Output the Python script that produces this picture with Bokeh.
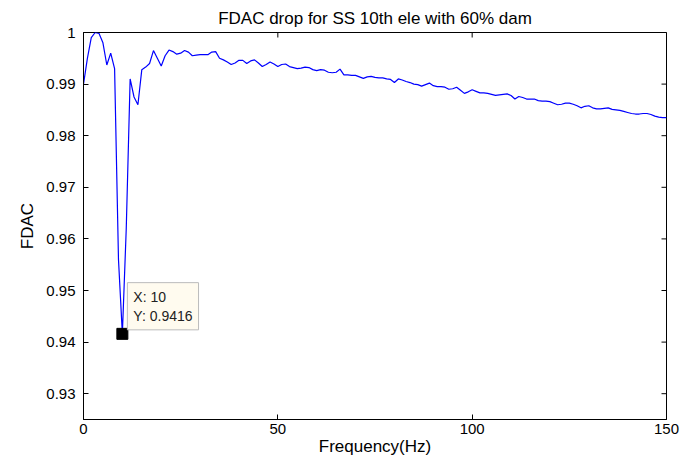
from bokeh.plotting import figure
from bokeh.models import (ColumnDataSource, Range1d, FixedTicker,
                          CustomJSTickFormatter, Label)
from bokeh.embed import file_html
from bokeh.resources import INLINE
import math

freq = list(range(0, 151))
fdac = [
    0.9900, 0.9950, 0.9990, 1.0000, 0.9998, 0.9980, 0.9937, 0.9960, 0.9930, 0.9560,
    0.9416, 0.9620, 0.9910, 0.9875, 0.9860, 0.9928, 0.9933, 0.9940, 0.9965, 0.9950,
    0.9935, 0.9955, 0.9966, 0.9963, 0.9958, 0.9960, 0.9965, 0.9962, 0.9955, 0.9956,
    0.9957, 0.9957, 0.9957, 0.9962, 0.9963, 0.9950, 0.9947, 0.9943, 0.9938, 0.9941,
    0.9946, 0.9946, 0.9940, 0.9945, 0.9947, 0.9941, 0.9934, 0.9938, 0.9943, 0.9939,
    0.9934, 0.9938, 0.9939, 0.9934, 0.9932, 0.9930, 0.9931, 0.9933, 0.9932, 0.9928,
    0.9926, 0.9928, 0.9927, 0.9923, 0.9922, 0.9923, 0.9929, 0.9918, 0.9918, 0.9917,
    0.9917, 0.9914, 0.9911, 0.9914, 0.9915, 0.9913, 0.9912, 0.9912, 0.9910, 0.9909,
    0.9903, 0.9910, 0.9908, 0.9905, 0.9903, 0.9900, 0.9899, 0.9896, 0.9899, 0.9902,
    0.9897, 0.9895, 0.9895, 0.9894, 0.9890, 0.9891, 0.9894, 0.9888, 0.9882, 0.9885,
    0.9889, 0.9886, 0.9883, 0.9883, 0.9882, 0.9880, 0.9878, 0.9879, 0.9880, 0.9881,
    0.9878, 0.9871, 0.9876, 0.9874, 0.9871, 0.9871, 0.9871, 0.9868, 0.9867, 0.9867,
    0.9866, 0.9863, 0.9860, 0.9861, 0.9863, 0.9863, 0.9861, 0.9858, 0.9854, 0.9857,
    0.9858, 0.9854, 0.9852, 0.9852, 0.9853, 0.9854, 0.9851, 0.9850, 0.9849, 0.9847,
    0.9845, 0.9843, 0.9842, 0.9842, 0.9843, 0.9843, 0.9841, 0.9838, 0.9836, 0.9835,
    0.9835,
]
x_ticks = [0, 50, 100, 150]
y_ticks = [0.93, 0.94, 0.95, 0.96, 0.97, 0.98, 0.99, 1.0]
x_lim = [0, 150]
y_lim = [0.925, 1.0]

tip_x = [10]
tip_y = [0.9416]

FONT = "Liberation Sans"

p = figure(width=693, height=461, output_backend="svg", toolbar_location=None,
           x_range=Range1d(*x_lim), y_range=Range1d(*y_lim),
           min_border_left=83, min_border_top=32, min_border_right=27,
           min_border_bottom=42)
p.title.text = "FDAC drop for SS 10th ele with 60% dam"
p.title.align = "center"
p.title.text_font = FONT
p.title.text_font_size = "17px"
p.title.text_font_style = "normal"
p.title.text_color = "black"
p.title.offset = 0
p.title.standoff = 10

p.grid.visible = False
p.outline_line_color = "black"
p.outline_line_width = 1
p.background_fill_color = "white"
p.border_fill_color = "white"

src = ColumnDataSource(dict(freq=freq, fdac=fdac))
p.line("freq", "fdac", source=src, line_color="#0000FF", line_width=1.2)

# inward tick marks on the top and right edges (box on)
p.scatter(x=x_ticks, y=[y_lim[1]] * len(x_ticks), marker="dash",
          angle=math.pi / 2, size=10, line_color="black", line_width=1)
p.scatter(x=[x_lim[1]] * len(y_ticks), y=y_ticks, marker="dash",
          size=10, line_color="black", line_width=1)

p.scatter(x=tip_x, y=tip_y, marker="square", size=11, color="black")
tip = Label(x=tip_x[0], y=tip_y[0], x_offset=5, y_offset=4,
            text="X: %d\nY: %.4f" % (tip_x[0], tip_y[0]),
            text_font=FONT, text_font_size="14px", text_color="#222222",
            text_baseline="bottom", text_align="left",
            background_fill_color="#FFFBEF", border_line_color="#BBBBBB",
            padding=6)
p.add_layout(tip)

for ax in (p.xaxis[0], p.yaxis[0]):
    ax.major_tick_in = 5
    ax.major_tick_out = 0
    ax.minor_tick_line_color = None
    ax.axis_line_color = "black"
    ax.major_tick_line_color = "black"
    ax.major_label_text_font = FONT
    ax.major_label_text_font_size = "15px"
    ax.major_label_text_color = "black"
    ax.axis_label_text_font = FONT
    ax.axis_label_text_font_size = "17px"
    ax.axis_label_text_font_style = "normal"
    ax.axis_label_text_color = "black"

p.xaxis.ticker = FixedTicker(ticks=x_ticks)
p.yaxis.ticker = FixedTicker(ticks=y_ticks)
p.yaxis.formatter = CustomJSTickFormatter(
    code="return tick >= 0.99999 ? '1' : tick.toFixed(2);")
p.xaxis.axis_label = "Frequency(Hz)"
p.yaxis.axis_label = "FDAC"
p.xaxis.major_label_standoff = 4
p.xaxis.axis_label_standoff = 0
p.yaxis.major_label_standoff = 8
p.yaxis.axis_label_standoff = 6

open("out.html", "w").write(file_html(p, INLINE))
